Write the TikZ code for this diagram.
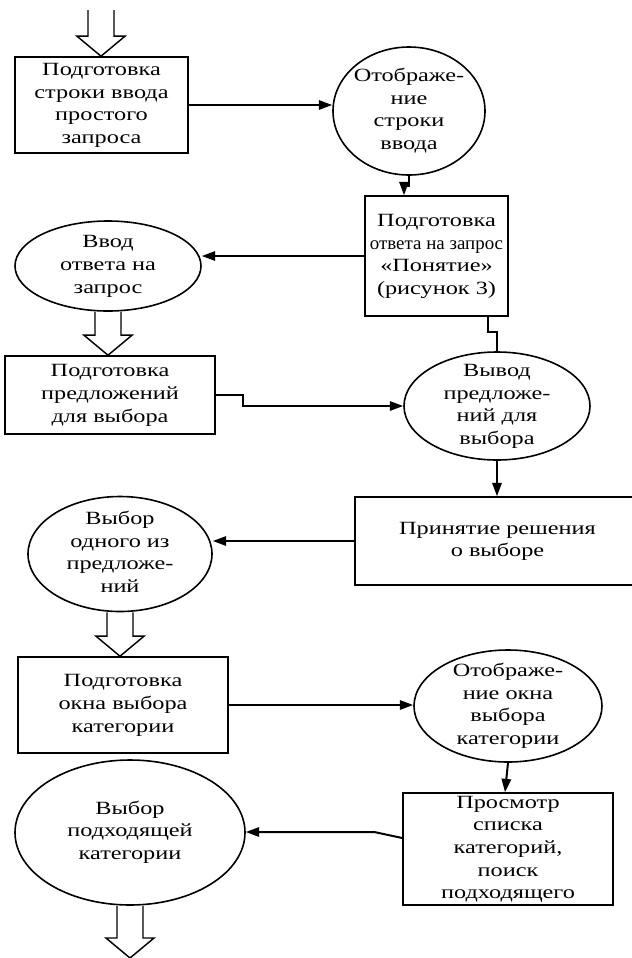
\documentclass[tikz,border=0pt]{standalone}
\usepackage{fontspec}
\setmainfont[FakeStretch=1.3]{Liberation Serif}
\usetikzlibrary{arrows.meta,shapes.geometric,calc}

\newcommand{\lbl}[1]{\makebox[0pt]{\smash{\raisebox{-0.25em}{\begin{tabular}{@{}c@{}}#1\end{tabular}}}}}
\newcommand{\fatarrow}[2]{%
  \coordinate (fa1) at (#1); \coordinate (fa2) at (#1 |- #2);
  \draw[fat] ($(fa1)+(-13,0)$) -- ($(fa2)+(-13,-20)$) -- ($(fa2)+(-24,-20)$) -- (fa2)
    -- ($(fa2)+(24,-20)$) -- ($(fa2)+(13,-20)$) -- ($(fa1)+(13,0)$);}

\begin{document}
\begin{tikzpicture}[x=0.75pt,y=-0.75pt,>={Triangle[length=10pt,width=7pt]},
  blk/.style={draw,line width=1.2pt,inner sep=0pt,font=\fontsize{14}{17}\selectfont},
  box/.style={blk,rectangle},
  oval/.style={blk,ellipse},
  sz/.style 2 args={minimum width=#1*0.75pt,minimum height=#2*0.75pt},
  link/.style={line width=1.5pt},
  fat/.style={line width=1.1pt,line join=miter}]
  \useasboundingbox (0,0) rectangle (632,958);

  % blocks
  \node[box,sz={173}{96}] (box1) at (101.5,105) {\lbl{Подготовка\\строки ввода\\простого\\запроса}};
  \node[oval,sz={152}{128}] (ell1) at (409,111) {\lbl{Отображе-\\ние\\строки\\ввода}};
  \node[box,sz={143}{120}] (box2) at (436.5,256) {\lbl{Подготовка\\\scalebox{0.78}[1]{ответа на запрос}\\«Понятие»\\(рисунок 3)}};
  \node[oval,sz={186}{90}] (ell2) at (108,266) {\lbl{Ввод\\ответа на\\запрос}};
  \node[box,sz={210}{78}] (box3) at (110,395) {\lbl{Подготовка\\предложений\\для выбора}};
  \node[oval,sz={186}{108}] (ell3) at (497,406) {\lbl{Вывод\\предложе-\\ний для\\выбора}};
  \node[box,sz={285}{88}] (box4) at (497.5,541) {\lbl{Принятие решения\\о выборе}};
  \node[oval,sz={184}{115}] (ell4) at (120,554) {\lbl{Выбор\\одного из\\предложе-\\ний}};
  \node[box,sz={210}{96}] (box5) at (123,705) {\lbl{Подготовка\\окна выбора\\категории}};
  \node[oval,sz={188}{112}] (ell5) at (508,706) {\lbl{Отображе-\\ние окна\\выбора\\категории}};
  \node[box,sz={210}{112}] (box6) at (508,849) {\lbl{Просмотр\\списка\\категорий,\\поиск\\подходящего}};
  \node[oval,sz={230}{145}] (ell6) at (130,832.5) {\lbl{Выбор\\подходящей\\категории}};
  \coordinate (start) at (101,10);
  \coordinate (finish) at (130,958);

  % hollow arrows
  \fatarrow{start}{box1.north}
  \fatarrow{ell2.south}{box3.north}
  \fatarrow{ell4.south}{box5.north}
  \fatarrow{ell6.south}{finish}

  % links
  \draw[link,->] (box1.east) -- (box1.east -| ell1.west);
  \draw[link,->] (ell1.south) -- ++(0,10) -| ($(ell1.south |- box2.north)+(-5,0)$);
  \draw[link,->] (box2.west) -- (box2.west -| ell2.east);
  \draw[link,->] (box3.east) -- ++(27,0) |- (ell3.west);
  \draw[link] (ell3.north) -- ++(0,-19) -| ($(box2.south east)+(-21,0)$);
  \draw[link,->] (ell3.south) -- (ell3.south |- box4.north);
  \draw[link,->] (box4.west) -- (box4.west -| ell4.east);
  \draw[link,->] (box5.east) -- (box5.east -| ell5.west);
  \draw[link,->] (ell5.south) -- ($(box6.north)+(-3,0)$);
  \draw[link,->] ($(box6.west)+(0,-11)$) -- ++(-28,-6) coordinate (kink) -- (kink -| ell6.east);
\end{tikzpicture}
\end{document}
